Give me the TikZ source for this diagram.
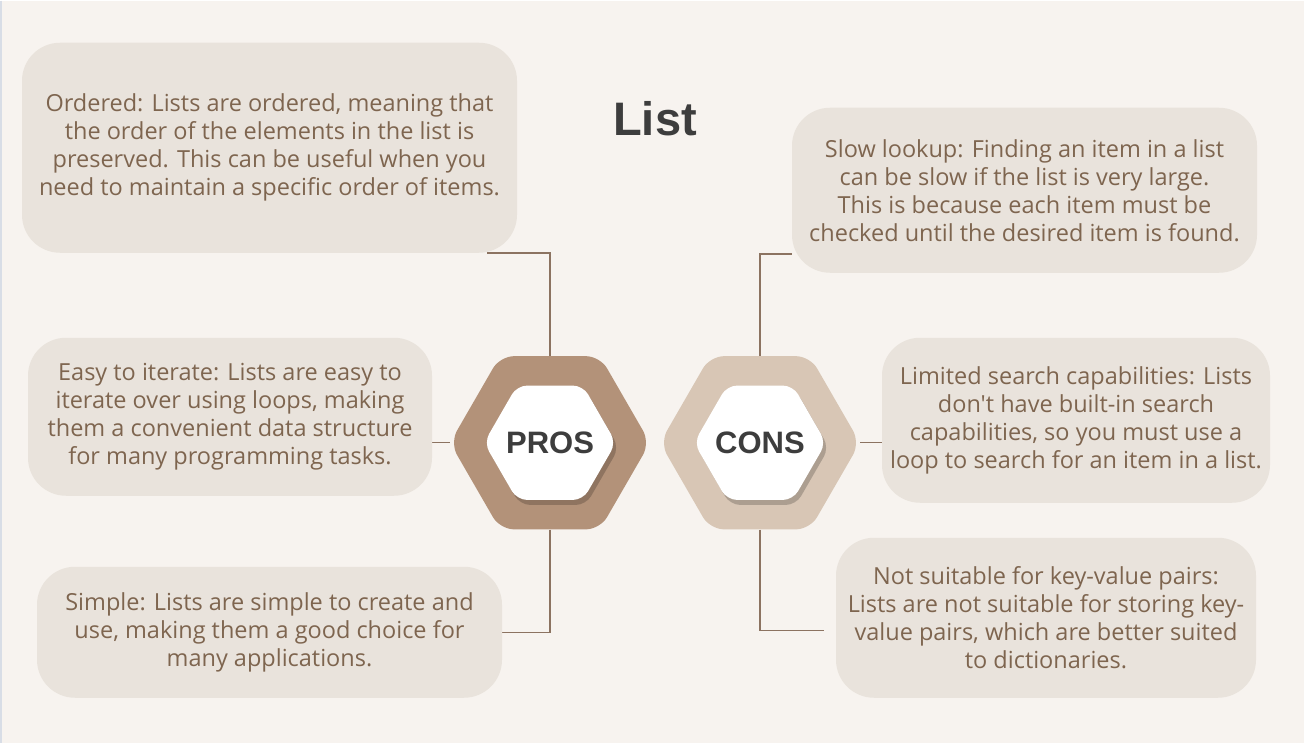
\documentclass[tikz,border=0pt]{standalone}
\usepackage{fontspec}
\setmainfont{Open Sans}[Ligatures=TeXOff]
\newfontfamily\headfont{Liberation Sans}
\usetikzlibrary{positioning,shapes.geometric,shadows}
\definecolor{paper}{HTML}{F7F3EF}
\definecolor{boxfill}{HTML}{E9E3DC}
\definecolor{boxtext}{HTML}{7E654F}
\definecolor{wirecol}{HTML}{8C7361}
\definecolor{prosfill}{HTML}{B39279}
\definecolor{consfill}{HTML}{D8C6B5}
\definecolor{headtext}{HTML}{3D3D3D}
\pgfdeclarelayer{paperlayer}
\pgfdeclarelayer{wires}
\pgfsetlayers{paperlayer,wires,main}

\begin{document}
\begin{tikzpicture}[x=1pt,y=-1pt,
    info/.style={rectangle,rounded corners=38pt,fill=boxfill,text=boxtext,align=center,
        inner sep=0pt,font=\fontsize{23.5}{28}\selectfont},
    hexring/.style={regular polygon,regular polygon sides=6,
        rounded corners=14pt,minimum size=200pt,inner sep=0pt},
    hexcore/.style={regular polygon,regular polygon sides=6,
        rounded corners=10pt,minimum size=132pt,inner sep=-20pt,fill=white,text=headtext,
        font=\headfont\bfseries\fontsize{31}{34}\selectfont,
        drop shadow={shadow xshift=3pt,shadow yshift=-5pt,fill=black,opacity=0.2}},
    wire/.style={draw=wirecol,line width=1.4pt}]
    \begin{pgfonlayer}{paperlayer}
        \fill[paper] (0,0) rectangle (1304,742);
        \draw[draw={rgb,255:red,216;green,221;blue,230},line width=1.5pt] (0.75,0) -- (0.75,742);
    \end{pgfonlayer}

    \node [text=headtext,font=\headfont\bfseries\fontsize{47}{50}\selectfont] (title) at (655,118) {List};

    \node [hexring,fill=prosfill] (pros) at (550,442) {};
    \node [hexcore] (prosin) at (pros.center) {PROS};
    \node [hexring,fill=consfill] (cons) at (760,442) {};
    \node [hexcore] (consin) at (cons.center) {CONS};

    \node [info,minimum width=495pt,minimum height=210pt] (ordered) at (269.5,147)
        {Ordered: Lists are ordered, meaning that\\the order of the elements in the list is\\preserved. This can be useful when you\\need to maintain a specific order of items.};
    \node [info,minimum width=404pt,minimum height=158pt] (iterate) at (230,416)
        {Easy to iterate: Lists are easy to\\iterate over using loops, making\\them a convenient data structure\\for many programming tasks.};
    \node [info,minimum width=465pt,minimum height=131pt] (simple) at (269.5,631.5)
        {Simple: Lists are simple to create and\\use, making them a good choice for\\many applications.};

    \node [info,minimum width=465pt,minimum height=165pt] (lookup) at (1024.5,189.5)
        {Slow lookup: Finding an item in a list\\can be slow if the list is very large.\\This is because each item must be\\checked until the desired item is found.};
    \node [info,minimum width=388pt,minimum height=165pt] (search) at (1076,419.5)
        {Limited search capabilities: Lists\\don't have built-in search\\capabilities, so you must use a\\loop to search for an item in a list.};
    \node [info,minimum width=420pt,minimum height=160pt] (pairs) at (1046,617)
        {Not suitable for key-value pairs:\\Lists are not suitable for storing key-\\value pairs, which are better suited\\to dictionaries.};

    \begin{pgfonlayer}{wires}
        \draw [wire] (pros.north) |- ([xshift=-30pt]ordered.south east);
        \draw [wire] (pros.west) -- (pros.west -| iterate.east);
        \draw [wire] (pros.south) |- (simple.east);
        \draw [wire] (cons.north) |- ([yshift=19pt]lookup.south west);
        \draw [wire] (cons.east) -- (cons.east -| search.west);
        \draw [wire] (cons.south) |- ([xshift=-12pt,yshift=-13pt]pairs.west);
    \end{pgfonlayer}
\end{tikzpicture}
\end{document}
